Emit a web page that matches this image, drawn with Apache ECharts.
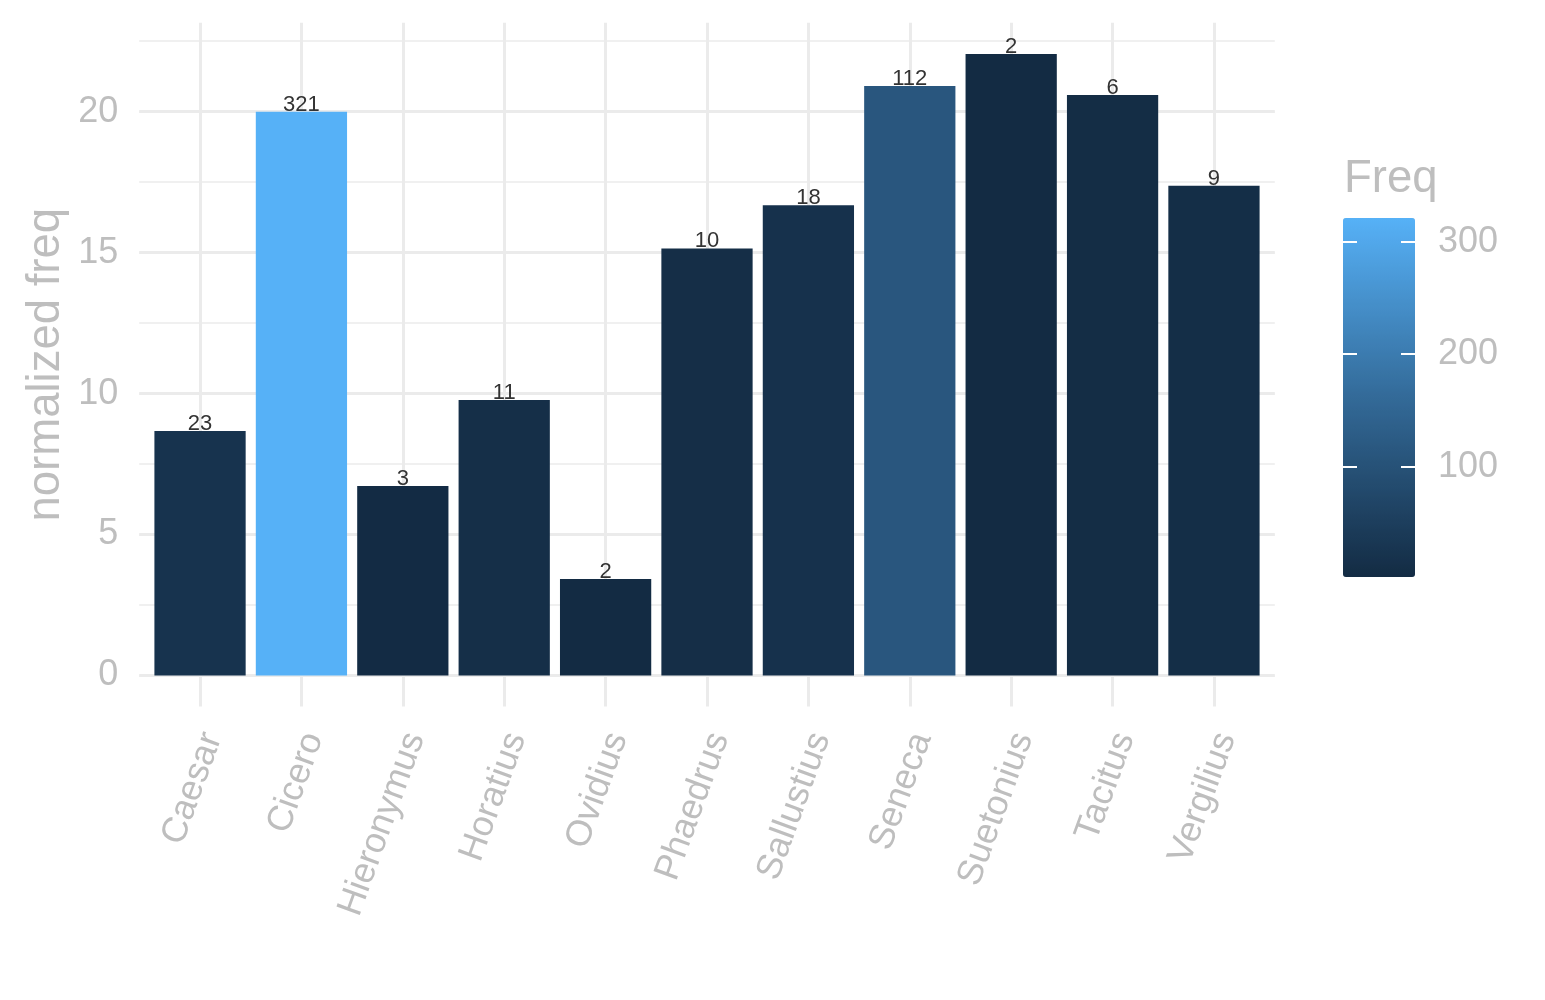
<!DOCTYPE html>
<html>
<head>
<meta charset="utf-8">
<script src="https://cdn.jsdelivr.net/npm/echarts@6/dist/echarts.min.js"></script>
<style>html,body{margin:0;padding:0;background:#fff;}#c{width:1545px;height:1000px;}</style>
</head>
<body>
<div id="c"></div>
<script>
// ---- data ----
const categories = ['Caesar','Cicero','Hieronymus','Horatius','Ovidius','Phaedrus','Sallustius','Seneca','Suetonius','Tacitus','Vergilius'];
const normFreq = [8.67, 20.0, 6.72, 9.77, 3.42, 15.15, 16.68, 20.91, 22.05, 20.59, 17.37];
const freq = [23, 321, 3, 11, 2, 10, 18, 112, 2, 6, 9];
const yTicks = [0, 5, 10, 15, 20];
const legendTicks = [100, 200, 300];
const yTitle = 'normalized freq';
const legendTitle = 'Freq';

// ---- layout (pixels) ----
const W = 1545, H = 1000;
const panelL = 139.2, panelR = 1274.8, panelT = 22.8, panelB = 706.6;
const y0 = 675.5, ppu = 28.19;
const step = (panelR - panelL) / (categories.length + 0.2);
const cbLeft = 1343, cbTop = 218, cbW = 72, cbH = 359;
const fMin = Math.min(...freq), fMax = Math.max(...freq);
const cbPpu = cbH / (fMax - fMin);
const legTop = cbTop + (fMax - legendTicks[legendTicks.length - 1]) * cbPpu;
const legBottomPx = cbTop + cbH + (fMin - 0) * cbPpu;

const FONT = 'Liberation Sans, Arial, Helvetica, sans-serif';
const GREY = '#BEBEBE';
const GRID = '#EBEBEB';
const minorMax = 22.5;
const majorMax = yTicks[yTicks.length - 1];
const TICK_FS = 36, TITLE_FS = 45.5;

const chart = echarts.init(document.getElementById('c'), null, {renderer: 'canvas'});
chart.setOption({
  animation: false,
  backgroundColor: '#fff',
  textStyle: {fontFamily: FONT},
  title: {
    text: legendTitle, left: cbLeft + 1, top: 156, padding: 0,
    textStyle: {fontSize: TITLE_FS, color: GREY, fontWeight: 'normal', fontFamily: FONT}
  },
  grid: [
    {left: panelL + 0.6 * step, right: W - (panelR - 0.6 * step), top: panelT, bottom: H - panelB},
    {left: panelL, right: W - panelR, top: y0 - minorMax * ppu, bottom: H - y0},
    {left: panelL, right: W - panelR, top: y0 - majorMax * ppu, bottom: H - y0},
    {left: panelL + 0.1 * step, right: W - (panelR - 0.1 * step), top: y0 - minorMax * ppu, bottom: H - y0},
    {left: cbLeft, width: cbW, top: legTop, bottom: H - legBottomPx}
  ],
  xAxis: [
    {gridIndex: 0, type: 'category', data: categories, boundaryGap: false,
     axisLine: {show: false}, axisTick: {show: false}, axisLabel: {show: false},
     splitLine: {show: true, lineStyle: {color: GRID, width: 3}}},
    {gridIndex: 1, type: 'value', show: false},
    {gridIndex: 2, type: 'value', show: false},
    {gridIndex: 3, type: 'category', data: categories,
     axisLine: {show: false}, axisTick: {show: false}, splitLine: {show: false},
     axisLabel: {rotate: 70, margin: 54, verticalAlign: 'top', lineHeight: 26,
       fontSize: TICK_FS, color: GREY, fontFamily: FONT, interval: 0}},
    {gridIndex: 4, type: 'value', show: false}
  ],
  yAxis: [
    {gridIndex: 0, type: 'value', min: 0, max: 1,
     axisLine: {show: false}, axisTick: {show: false}, axisLabel: {show: false}, splitLine: {show: false},
     name: yTitle, nameLocation: 'middle', nameRotate: 90, nameGap: 131,
     nameTextStyle: {fontSize: TITLE_FS, color: GREY, fontFamily: FONT}},
    {gridIndex: 1, type: 'value', min: 0, max: minorMax, interval: 2.5,
     axisLine: {show: false}, axisTick: {show: false}, axisLabel: {show: false},
     splitLine: {show: true, lineStyle: {color: GRID, width: 1.6}}},
    {gridIndex: 2, type: 'value', min: 0, max: majorMax, interval: 5,
     axisLine: {show: false}, axisTick: {show: false},
     axisLabel: {show: true, customValues: yTicks, margin: 21, fontSize: TICK_FS, color: GREY, fontFamily: FONT},
     splitLine: {show: true, lineStyle: {color: GRID, width: 3}}},
    {gridIndex: 3, type: 'value', min: 0, max: minorMax, show: false},
    {gridIndex: 4, type: 'value', min: 0, max: legendTicks[legendTicks.length - 1], interval: 100, position: 'left', z: 20,
     axisLine: {show: false}, splitLine: {show: false}, axisLabel: {show: false},
     axisTick: {show: true, inside: true, length: 14, customValues: legendTicks, lineStyle: {color: '#ffffff', width: 2}}},
    {gridIndex: 4, type: 'value', min: 0, max: legendTicks[legendTicks.length - 1], interval: 100, position: 'right', z: 20,
     axisLine: {show: false}, splitLine: {show: false},
     axisLabel: {show: true, customValues: legendTicks, margin: 23, fontSize: TICK_FS, color: GREY, fontFamily: FONT},
     axisTick: {show: true, inside: true, length: 14, customValues: legendTicks, lineStyle: {color: '#ffffff', width: 2}}}
  ],
  visualMap: {
    type: 'continuous', min: fMin, max: fMax, dimension: 2, seriesIndex: 0,
    inRange: {color: ['#132B43', '#336A98', '#56B1F7']},
    left: cbLeft, top: cbTop, itemWidth: cbW, itemHeight: cbH,
    calculable: false, padding: 0, orient: 'vertical', z: 1, hoverLink: false,
    textStyle: {color: GREY}
  },
  series: [{
    type: 'bar', xAxisIndex: 3, yAxisIndex: 3,
    barWidth: '90%',
    encode: {x: 0, y: 1},
    data: categories.map((c, i) => [c, normFreq[i], freq[i]]),
    label: {show: true, position: 'top', distance: -4,
      formatter: p => String(p.value[2]), fontSize: 22, color: '#333333', fontFamily: FONT}
  }]
});
</script>
</body>
</html>
